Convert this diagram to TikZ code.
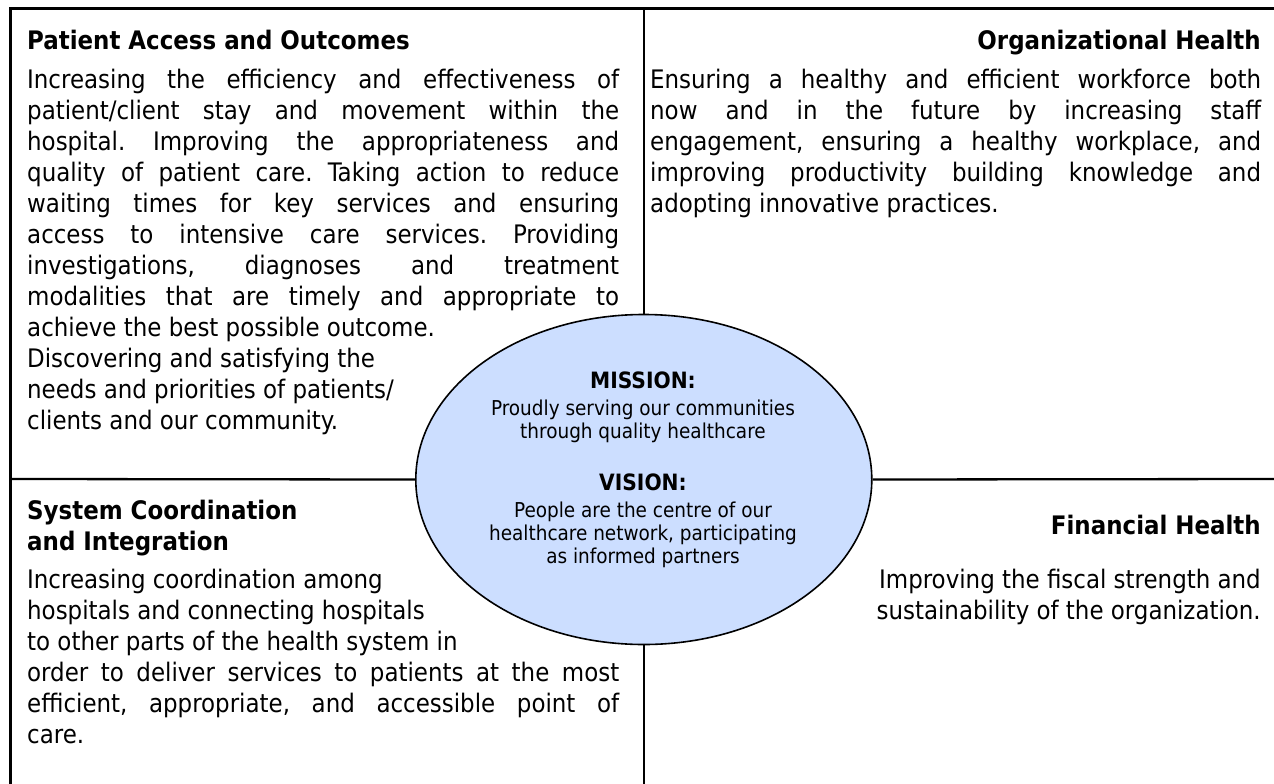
\documentclass[tikz,border=0pt]{standalone}
\usepackage{fontspec}
\setmainfont{DejaVu Sans Condensed}
\usetikzlibrary{shapes.geometric}
\definecolor{ovalfill}{RGB}{204,222,255}
\frenchspacing
% one justified line of running text, stretched to the box width
\newcommand\jline[1]{\makebox[\linewidth][s]{#1}\par}
\newcommand\bodysize{\fontsize{25.5}{31}\selectfont}
\newcommand\ovalheadsize{\fontsize{22.5}{23.3}\selectfont}
\newcommand\ovalsize{\fontsize{20.5}{23.3}\selectfont}
\tikzset{
  frame/.style={line width=3pt},
  divider/.style={line width=2.3pt},
  oval/.style={ellipse, draw, line width=1.6pt, fill=ovalfill,
    minimum width=456pt, minimum height=330pt, inner sep=0pt},
  head/.style={inner sep=0pt, font=\bodysize\bfseries},
  body/.style={inner sep=0pt, font=\bodysize},
  ovalhead/.style={inner sep=0pt, font=\ovalheadsize\bfseries},
  ovaltext/.style={inner sep=0pt, font=\ovalsize, align=center}
}
\begin{document}
\begin{tikzpicture}[x=1pt,y=-1pt]
\useasboundingbox (0,0) rectangle (1274,784);

% central mission / vision ellipse
\node[oval] (oval) at (643.8,479.5) {};

% outer frame (top and left edges)
\coordinate (tl) at (10.5,9);
\coordinate (tr) at (1274,9);
\coordinate (bl) at (10.5,784);
\draw[frame] (tr) -- (tl) -- (bl);

% quadrant dividers meeting the ellipse
\coordinate (vtop) at (643.8,9);
\coordinate (vbot) at (643.8,784);
\coordinate (hleft) at (10.5,479);
\coordinate (hright) at (1274,479);
\draw[divider] (vtop) -- (oval.north);
\draw[divider] (oval.south) -- (vbot);
\draw[divider] (hleft) -- (oval.west);
\draw[divider] (oval.east) -- (hright);

% top left: patient access
\node[head, anchor=base west] (pahead) at (27,50) {Patient Access and Outcomes};
\node[body, anchor=base west] (pabody) at (27,88.5) {\parbox[t]{592pt}{\bodysize
  \jline{Increasing the efficiency and effectiveness of}
  \jline{patient/client stay and movement within the}
  \jline{hospital. Improving the appropriateness and}
  \jline{quality of patient care. Taking action to reduce}
  \jline{waiting times for key services and ensuring}
  \jline{access to intensive care services. Providing}
  \jline{investigations, diagnoses and treatment}
  \jline{modalities that are timely and appropriate to}
  achieve the best possible outcome.\par
  Discovering and satisfying the\par
  needs and priorities of patients/\par
  clients and our community.\par}};

% top right: organizational health
\node[head, anchor=base east] (ohhead) at (1261,50) {Organizational Health};
\node[body, anchor=base west] (ohbody) at (650,88.5) {\parbox[t]{611pt}{\bodysize
  \jline{Ensuring a healthy and efficient workforce both}
  \jline{now and in the future by increasing staff}
  \jline{engagement, ensuring a healthy workplace, and}
  \jline{improving productivity building knowledge and}
  adopting innovative practices.\par}};

% bottom left: system coordination
\node[head, anchor=base west] (schead) at (27,519) {\parbox[t]{400pt}{\bodysize\bfseries
  System Coordination\par and Integration\par}};
\node[body, anchor=base west] (scbody) at (27,588) {\parbox[t]{592pt}{\bodysize
  Increasing coordination among\par
  hospitals and connecting hospitals\par
  to other parts of the health system in\par
  \jline{order to deliver services to patients at the most}
  \jline{efficient, appropriate, and accessible point of}
  care.\par}};

% bottom right: financial health
\node[head, anchor=base east] (fhhead) at (1261,534.5) {Financial Health};
\node[body, anchor=base east] (fhbody) at (1261,588) {\parbox[t]{500pt}{\bodysize\raggedleft
  Improving the fiscal strength and\par
  sustainability of the organization.\par}};

% ellipse contents
\node[ovalhead, anchor=base] (mission) at (643,388) {MISSION:};
\node[ovaltext, anchor=base] (missiontext) at (643,415) {\parbox[t]{420pt}{\ovalsize\centering
  Proudly serving our communities\par through quality healthcare\par}};
\node[ovalhead, anchor=base] (vision) at (643,490) {VISION:};
\node[ovaltext, anchor=base] (visiontext) at (643,517) {\parbox[t]{420pt}{\ovalsize\centering
  People are the centre of our\par healthcare network, participating\par as informed partners\par}};
\end{tikzpicture}
\end{document}
